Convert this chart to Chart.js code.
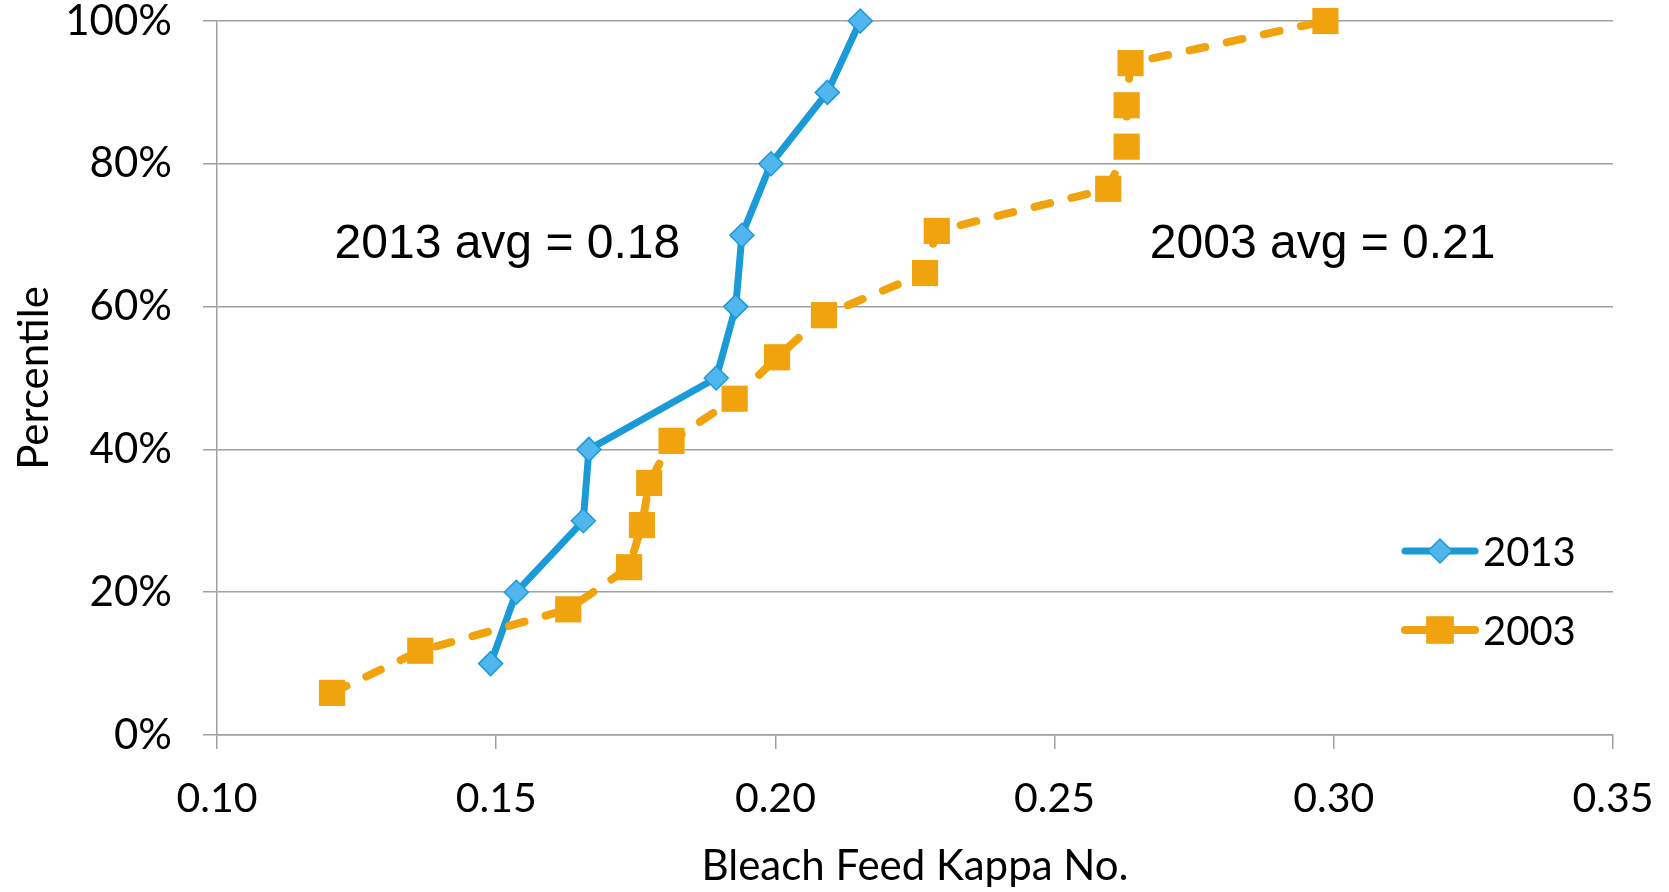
<!DOCTYPE html>
<html>
<head>
<meta charset="utf-8">
<script src="https://cdn.jsdelivr.net/npm/chart.js@4.4.1/dist/chart.umd.min.js"></script>
<style>
  html, body { margin: 0; padding: 0; background: #fff; }
  #wrap { width: 1669px; height: 892px; }
</style>
</head>
<body>
<div id="wrap"><canvas id="kappa"></canvas></div>
<script>
// kappa values, percentile in %
const kappa2013 = [0.149, 0.1536, 0.1656, 0.1666, 0.1894, 0.1929, 0.194, 0.1992, 0.2093, 0.2152];
const pct2013 = [10, 20, 30, 40, 50, 60, 70, 80, 90, 100];
const kappa2003 = [0.1206, 0.1364, 0.1629, 0.1738, 0.1761, 0.1774, 0.1814, 0.1927, 0.2003, 0.2087,
                   0.2268, 0.2289, 0.2596, 0.2629, 0.2629, 0.2636, 0.2985];
const pct2003 = [5.9, 11.8, 17.6, 23.5, 29.4, 35.3, 41.2, 47.1, 52.9, 58.8,
                 64.7, 70.6, 76.5, 82.4, 88.2, 94.1, 100];
const xTicks = [0.10, 0.15, 0.20, 0.25, 0.30, 0.35];
const yTicks = [0, 20, 40, 60, 80, 100];
const seriesNames = ["2013", "2003"];
const notes = ["2013 avg = 0.18", "2003 avg = 0.21"];

const blue = "#1a9bd7", orange = "#f0a30c";
const axisFont = "Lato, 'Open Sans', sans-serif";

function pts(xs, ys) {
  return xs.map((x, i) => ({x: x, y: ys[i]}));
}

// draws the avg notes and an excel style legend over the plot
const overlay = {
  id: 'overlay',
  afterDatasetsDraw(chart) {
    const ctx = chart.ctx, xs = chart.scales.x, ys = chart.scales.y;
    ctx.save();
    ctx.fillStyle = "#000";
    ctx.font = "48px 'Liberation Sans', Arial, sans-serif";
    ctx.textAlign = "center";
    ctx.textBaseline = "middle";
    ctx.fillText(notes[0], xs.getPixelForValue(0.152), ys.getPixelForValue(68.6));
    ctx.fillText(notes[1], xs.getPixelForValue(0.298), ys.getPixelForValue(68.6));

    const rows = [551, 630];
    ctx.font = "40px " + axisFont;
    ctx.textAlign = "left";
    chart.data.datasets.forEach((ds, i) => {
      const y = rows[i], x0 = 1405, x1 = 1475, xm = (x0 + x1) / 2;
      ctx.strokeStyle = ds.borderColor;
      ctx.lineWidth = ds.borderWidth;
      ctx.lineCap = "round";
      ctx.beginPath(); ctx.moveTo(x0, y); ctx.lineTo(x1, y); ctx.stroke();
      ctx.fillStyle = ds.pointBackgroundColor;
      ctx.strokeStyle = ds.pointBorderColor;
      ctx.lineWidth = 1.5;
      const r = ds.pointRadius;
      ctx.beginPath();
      if (ds.pointStyle === 'rectRot') {
        ctx.moveTo(xm, y - r); ctx.lineTo(xm + r, y); ctx.lineTo(xm, y + r); ctx.lineTo(xm - r, y);
      } else {
        const s = r * Math.SQRT1_2;
        ctx.rect(xm - s, y - s, 2 * s, 2 * s);
      }
      ctx.closePath(); ctx.fill(); ctx.stroke();
      ctx.fillStyle = "#000";
      ctx.fillText(ds.label, 1483, y + 2);
    });
    ctx.restore();
  }
};

new Chart(document.getElementById("kappa"), {
  type: 'scatter',
  data: {
    datasets: [{
      label: seriesNames[0],
      data: pts(kappa2013, pct2013),
      showLine: true,
      clip: false,
      borderColor: blue,
      borderWidth: 7,
      pointStyle: 'rectRot',
      pointRadius: 12,
      pointBackgroundColor: "#52b6ee",
      pointBorderColor: "#1d9ad6",
      pointBorderWidth: 1.5,
      order: 2
    }, {
      label: seriesNames[1],
      data: pts(kappa2003, pct2003),
      showLine: true,
      clip: false,
      borderColor: orange,
      borderWidth: 8,
      borderDash: [16, 22],
      borderCapStyle: 'round',
      pointStyle: 'rect',
      pointRadius: 18.5,
      pointBackgroundColor: orange,
      pointBorderColor: orange,
      pointBorderWidth: 0,
      order: 1
    }]
  },
  options: {
    responsive: true,
    maintainAspectRatio: false,
    animation: false,
    layout: { padding: { left: 0, right: 56, top: 21, bottom: 0 } },
    plugins: { legend: { display: false }, tooltip: { enabled: false } },
    scales: {
      x: {
        type: 'linear',
        min: xTicks[0],
        max: xTicks[xTicks.length - 1],
        afterBuildTicks(scale) { scale.ticks = xTicks.map(v => ({value: v})); },
        afterFit(scale) { scale.height = 157; scale.paddingLeft = 0; scale.paddingRight = 0; },
        ticks: { color: "#000", font: { family: axisFont, size: 41 }, padding: 25,
                 callback: v => v.toFixed(2) },
        grid: { drawOnChartArea: false, drawTicks: true, tickLength: 14, color: "#a0a0a0", lineWidth: 1.5 },
        border: { color: "#a0a0a0", width: 1.5 },
        title: { display: true, text: "Bleach Feed Kappa No.", color: "#000",
                 font: { family: axisFont, size: 42 }, padding: { top: 0, bottom: 0 } }
      },
      y: {
        min: 0,
        max: 100,
        afterBuildTicks(scale) { scale.ticks = yTicks.map(v => ({value: v})); },
        afterFit(scale) { scale.width = 217; scale.paddingTop = 0; scale.paddingBottom = 0; },
        ticks: { color: "#000", font: { family: axisFont, size: 42 }, padding: 31,
                 callback: v => v + "%" },
        grid: { color: "#a0a0a0", lineWidth: 1.5, tickLength: 14 },
        border: { color: "#a0a0a0", width: 1.5 },
        title: { display: true, text: "Percentile", color: "#000",
                 font: { family: axisFont, size: 42 }, padding: { top: 9, bottom: 0 } }
      }
    }
  },
  plugins: [overlay]
});
</script>
</body>
</html>
